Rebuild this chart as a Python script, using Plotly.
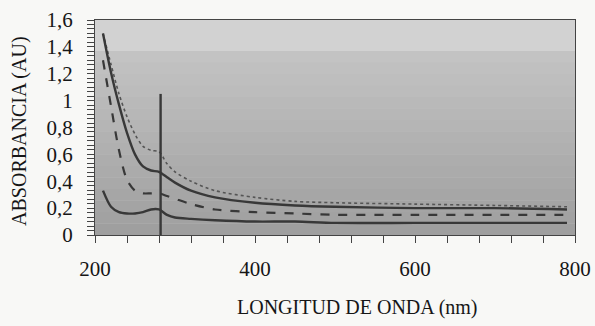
import plotly.graph_objects as go

# ---- data ----
wavelength = [210, 220, 230, 240, 250, 260, 270, 280, 290, 300, 320, 350, 400, 450, 500, 600, 700, 790]
abs_upper = [1.50, 1.27, 1.05, 0.88, 0.75, 0.66, 0.63, 0.62, 0.53, 0.47, 0.40, 0.33, 0.28, 0.25, 0.24, 0.23, 0.22, 0.21]
abs_solid = [1.50, 1.21, 0.97, 0.76, 0.60, 0.51, 0.48, 0.47, 0.43, 0.39, 0.33, 0.28, 0.24, 0.22, 0.21, 0.20, 0.20, 0.19]
abs_dashed = [1.30, 0.96, 0.63, 0.41, 0.33, 0.31, 0.31, 0.31, 0.29, 0.27, 0.23, 0.19, 0.17, 0.16, 0.15, 0.15, 0.15, 0.15]
abs_lower = [0.33, 0.21, 0.17, 0.16, 0.16, 0.17, 0.19, 0.19, 0.15, 0.13, 0.12, 0.11, 0.10, 0.10, 0.09, 0.09, 0.09, 0.09]
marker_wl = [282, 282]
marker_abs = [0, 1.05]

x_ticks = [200, 400, 600, 800]
y_ticks = [0, 0.2, 0.4, 0.6, 0.8, 1.0, 1.2, 1.4, 1.6]
y_ticklabels = ["0", "0,2", "0,4", "0,6", "0,8", "1", "1,2", "1,4", "1,6"]

LINE = "#383838"
TEXT = "#161616"
FONT = "Liberation Serif"

fig = go.Figure()
fig.add_trace(go.Scatter(x=wavelength, y=abs_upper, mode="lines",
                         line=dict(color="#555555", width=1.6, dash="dot", shape="spline", smoothing=0.8)))
fig.add_trace(go.Scatter(x=wavelength, y=abs_solid, mode="lines",
                         line=dict(color=LINE, width=2.4, shape="spline", smoothing=0.8)))
fig.add_trace(go.Scatter(x=wavelength, y=abs_dashed, mode="lines",
                         line=dict(color=LINE, width=2.2, dash="dash", shape="spline", smoothing=0.8)))
fig.add_trace(go.Scatter(x=wavelength, y=abs_lower, mode="lines",
                         line=dict(color=LINE, width=2.4, shape="spline", smoothing=0.8)))
fig.add_trace(go.Scatter(x=marker_wl, y=marker_abs, mode="lines",
                         line=dict(color=LINE, width=2.4)))

# background: light top band, then a grey gradient getting darker downward
shapes = [dict(type="rect", xref="paper", yref="y", x0=0, x1=1, y0=1.37, y1=1.6,
               fillcolor="#d2d2d2", line=dict(width=0), layer="below")]
n = 16
top_c, bot_c = 0xc4, 0x9e
for i in range(n):
    y0 = 1.37 * i / n
    y1 = 1.37 * (i + 1) / n
    frac = (i + 0.5) / n
    g = int(round(bot_c + (top_c - bot_c) * frac))
    shapes.append(dict(type="rect", xref="paper", yref="y", x0=0, x1=1, y0=y0, y1=y1,
                       fillcolor=f"rgb({g},{g},{g})", line=dict(width=0), layer="below"))

fig.update_layout(
    width=595, height=326,
    margin=dict(l=95, r=20, t=20, b=91, autoexpand=False),
    paper_bgcolor="#f8f8f6",
    plot_bgcolor="#bcbcbc",
    showlegend=False,
    shapes=shapes,
    font=dict(family=FONT, color=TEXT),
    annotations=[
        dict(text="LONGITUD DE ONDA (nm)", xref="paper", yref="paper", x=0.546, y=-0.335,
             xanchor="center", yanchor="middle", showarrow=False,
             font=dict(family=FONT, size=20, color=TEXT)),
        dict(text="ABSORBANCIA (AU)", xref="paper", yref="paper", x=-0.156, y=0.48,
             xanchor="center", yanchor="middle", showarrow=False, textangle=-90,
             font=dict(family=FONT, size=20, color=TEXT)),
    ],
)
fig.update_xaxes(
    range=[200, 800], tickvals=x_ticks, ticks="outside", ticklen=7, tickcolor="#444",
    tickfont=dict(family=FONT, size=21, color=TEXT), ticklabelstandoff=8, automargin=False,
    minor=dict(dtick=40, tick0=200, ticks="outside", ticklen=7, tickcolor="#444"),
    showgrid=False, zeroline=False, showline=True, linecolor="#444", linewidth=1, mirror=True,
)
fig.update_yaxes(
    range=[0, 1.6], tickvals=y_ticks, ticktext=y_ticklabels, ticks="outside", ticklen=7, tickcolor="#444",
    tickfont=dict(family=FONT, size=21, color=TEXT), ticklabelstandoff=10, automargin=False,
    minor=dict(dtick=0.2 / 6, tick0=0, ticks="outside", ticklen=7, tickcolor="#444"),
    showgrid=False, zeroline=False, showline=True, linecolor="#444", linewidth=1, mirror=True,
)

fig.write_html(
    "out.html",
    config={"displayModeBar": False},
    post_script="document.body.style.margin='0px';document.body.style.overflow='hidden';",
)
